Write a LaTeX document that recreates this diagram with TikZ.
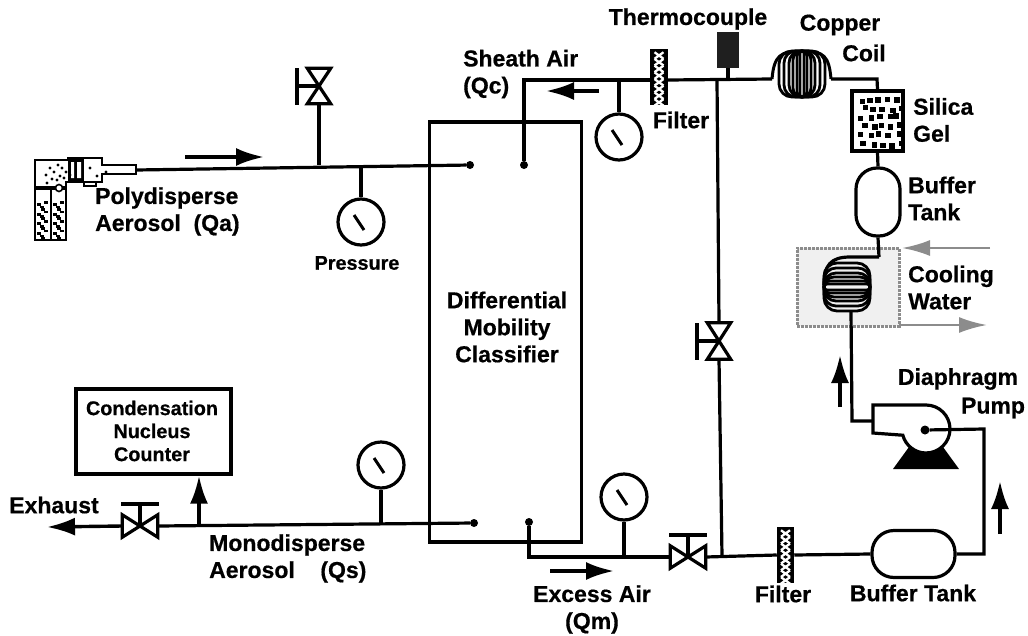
\documentclass[tikz,border=0pt]{standalone}
\usepackage{xcolor}
\usepackage{fontspec}
\setmainfont{Liberation Sans}[BoldFeatures={FakeBold=0.6}]
\usepackage{tikz}
\usetikzlibrary{arrows.meta}

\begin{document}
\begin{tikzpicture}[
x=1pt, y=-1pt,
% Style for the tubing and the flow arrows
pipe style/.style={line width=3.2pt, black},
flow style/.style={line width=3.4pt, -{Latex[length=28pt,width=18pt]}},
water style/.style={line width=2.6pt, black!45, -{Latex[length=28pt,width=16pt]}},
% Style for the drawn parts
gauge style/.style={circle, draw=black, line width=3.2pt, fill=white, minimum size=46pt, inner sep=0pt},
valve style/.style={draw=none, inner sep=0pt},
port style/.style={circle, fill=black, minimum size=8pt, inner sep=0pt},
filter style/.style={rectangle, draw=black, fill=black, line width=1.5pt, minimum width=16pt, minimum height=55pt, inner sep=0pt},
tank style/.style={rectangle, draw=black, line width=3.2pt, inner sep=0pt},
box style/.style={rectangle, draw=black, line width=3.2pt, inner sep=0pt},
% Style for the labels
label style/.style={font=\fontsize{23}{27}\selectfont\bfseries, inner sep=0pt, align=left},
small label/.style={font=\fontsize{19.8}{23}\selectfont\bfseries, inner sep=0pt, align=center}
]
\useasboundingbox (0,0) rectangle (1028,635);

% Cooling water bath goes underneath everything
\node[rectangle, draw=black!45, densely dotted, line width=3pt, fill=black!6, minimum width=102pt, minimum height=78pt, inner sep=0pt] (bath) at (848,287) {};
\coordinate (waterInEnd) at (990,248);
\coordinate (waterInTip) at (902,248);
\coordinate (waterOutStart) at (899,325);
\coordinate (waterOutTip) at (987,325);
\draw[water style] (waterInEnd) -- (waterInTip);
\draw[water style] (waterOutStart) -- (waterOutTip);

% Classifier column
\node[box style] (dmc) at (505.5,332) [minimum width=152pt, minimum height=420pt] {};
\node[label style, align=center] (dmcText) at (507,327) {Differential\\Mobility\\Classifier};

% Counter box
\node[box style, line width=3.4pt, minimum width=155pt, minimum height=85pt] (cnc) at (153.5,431.5) {};
\node[small label] (cncText) at (152,431) {Condensation\\Nucleus\\Counter};

% Gauges along the lines
\foreach \name/\pos in {gAerosol/{(361,222)}, gMono/{(381,465)}, gSheath/{(619,137)}, gExcess/{(624,497)}} {
\node[gauge style] (\name) at \pos {};
\draw[line width=3pt, shift={(\name.center)}] (-7,-7) -- (3,8);
}

% Valves, all with the same bow-tie
\node[valve style, minimum width=35pt, minimum height=22pt] (vExhaust) at (140,526) {};
\node[valve style, minimum width=35pt, minimum height=22pt] (vExcess) at (688,557) {};
\node[valve style, minimum width=23pt, minimum height=35pt] (vAerosol) at (319,86) {};
\node[valve style, minimum width=23pt, minimum height=36pt] (vBypass) at (719,341) {};
\foreach \v in {vExhaust,vExcess} {
\draw[pipe style, line join=miter] (\v.north west) -- (\v.south west) -- (\v.north east) -- (\v.south east) -- cycle;
\draw[pipe style] (\v.center) -- ++(0,-22) ++(-19,0) -- ++(38,0);
}
\foreach \v in {vAerosol,vBypass} {
\draw[pipe style, line join=miter] (\v.north west) -- (\v.north east) -- (\v.south west) -- (\v.south east) -- cycle;
\draw[pipe style] (\v.center) -- ++(-22,0) ++(0,-18) -- ++(0,37);
}

% Filters with their white crosses
\node[filter style] (fSheath) at (659,77) {};
\node[filter style] (fExit) at (785.5,555) {};
\foreach \f in {fSheath,fExit} {
\foreach \k in {0,...,7} {
\draw[white, line width=2.3pt, shift={(\f.north)}] (-4.5,{3.5+\k*6.7}) -- (4.5,{10+\k*6.7}) (-4.5,{10+\k*6.7}) -- (4.5,{3.5+\k*6.7});
}
}

% Thermocouple on its stem
\node[rectangle, fill=black!88, minimum width=22pt, minimum height=36pt, inner sep=0pt] (thermo) at (728,50) {};

% Silica gel drier, black grains scattered by random offsets
\node[box style, line width=3.4pt, minimum width=51pt, minimum height=60pt] (silica) at (877.5,121) {};
\pgfmathsetseed{11}
\foreach \r in {0,...,5} {
\foreach \c in {0,...,4} {
\pgfmathsetmacro{\gx}{857+\c*9+mod(\r,2)*3+rnd*4}
\pgfmathsetmacro{\gy}{95+\r*9+rnd*4}
\fill[black] (\gx,\gy) rectangle ++(5.4,5.4);
}
}

% Buffer tanks
\node[tank style, minimum width=44pt, minimum height=68pt, rounded corners=21pt] (tankUp) at (878,202) {};
\node[tank style, minimum width=83pt, minimum height=47pt, rounded corners=22pt] (tankLow) at (913.5,554) {};

% Copper coil, nested loops
\foreach \rx/\rc in {23/13,18/12,13/12,9/9,5/5,2/2} {
\draw[line width=2.8pt, rounded corners=\rc] (802-\rx,51) rectangle (802+\rx,97);
}
\coordinate (coilIn) at (772,79);
\coordinate (coilOut) at (831,79);
\draw[line width=3pt] (coilIn) .. controls (774,56) and (780,51) .. (802,51) .. controls (824,51) and (829,56) .. (coilOut);

% Cooling coil, nested loops
\foreach \ry/\rc in {24/13,19/12,14/12,10/10,6/6,3/3} {
\draw[line width=2.8pt, rounded corners=\rc] (824,287-\ry) rectangle (870,287+\ry);
}
\coordinate (coolIn) at (879,257);
\coordinate (coolOut) at (851,311);
\draw[pipe style] (coolIn) -- (850,257) .. controls (830,257) and (824,266) .. (824,285);

% Diaphragm pump
\fill[black] (893,469) -- (959,469) -- (943,447) -- (909,447) -- cycle;
\draw[pipe style, fill=white] (873,405) -- (926,405) arc[start angle=-90, end angle=165, radius=24] -- (873,433) -- cycle;
\node[port style, minimum size=9pt] (pumpHub) at (925,430) {};

% Atomizer
\draw[line width=2.6pt, fill=white] (35,160) -- (68,160) -- (68,158) -- (102,158) -- (102,165) -- (136,165) -- (136,174) -- (102,174) -- (102,182) -- (66,182) -- (66,240) -- (35,240) -- cycle;
\fill[black] (68,158) rectangle (84,181);
\fill[white] (71,162) rectangle (74,178) (77,162) rectangle (81,178);
\draw[line width=2.4pt] (51,188) -- (51,240);
\fill[black] (35,186) rectangle (66,190);
\draw[line width=1.6pt, fill=white] (59,188) circle (3.5);
\foreach \dotx/\doty in {46/175, 50/168, 54/172, 58/165, 62/168, 66/172, 60/176, 52/179, 57/180, 64/178, 90/168, 97/176, 106/172, 47/183, 70/175} {
\fill[black] (\dotx,\doty) circle (1.6);
}
\foreach \colx in {36,52} {
\foreach \k in {0,...,7} {
\fill[black] ({\colx+1+mod(\k,2)*4},{203+\k*4.8}) rectangle ++(4,3);
\fill[black] ({\colx+8-mod(\k,2)*4},{201+\k*4.8}) rectangle ++(3.5,2.5);
}
}
\draw[line width=1.5pt] (84,182) rectangle (96,186);

% Top line
\coordinate (jNozzle) at (136,170);
\node[port style] (portA) at (470,165) {};
\node[port style] (portC) at (524,165) {};
\draw[pipe style] (jNozzle) -- (portA);
\draw[pipe style] (vAerosol.south) -- (vAerosol.south |- portA);
\draw[pipe style] (gAerosol.north) -- (gAerosol.north |- portA);
\coordinate (jSheath) at (524,80);
\coordinate (jDrop) at (717,80);
\coordinate (jCorner) at (877,79);
\draw[pipe style] (portC) -- (jSheath) -- (fSheath.west |- jSheath);
\draw[pipe style] (gSheath.north) -- (gSheath.north |- jSheath);
\draw[pipe style] (fSheath.east |- jDrop) -- (coilIn);
\draw[pipe style] (thermo.south) -- (thermo.south |- jDrop);
\draw[pipe style] (coilOut) -- (jCorner) -- (silica.north);
\draw[pipe style] (silica.south) -- (tankUp.north);
\draw[pipe style] (tankUp.south) -- (coolIn);

% Bypass and pump loop
\coordinate (jBottom) at (722,556);
\coordinate (jPumpIn) at (852,421);
\coordinate (jPumpOut) at (984,429);
\coordinate (jTankOut) at (984,554);
\draw[pipe style] (jDrop) -- (vBypass.north);
\draw[pipe style] (vBypass.south) -- (jBottom);
\draw[pipe style] (coolOut) -- (jPumpIn) -- (873,421);
\draw[pipe style] (pumpHub) -- (jPumpOut) -- (jTankOut) -- (tankLow.east);
\draw[pipe style] (tankLow.west) -- (fExit.east);
\draw[pipe style] (fExit.west) -- (vExcess.east);

% Bottom lines
\node[port style] (portS) at (474,523) {};
\node[port style] (portM) at (529,522) {};
\coordinate (jExcess) at (529,557);
\coordinate (jCounter) at (199,524);
\coordinate (exhaustTip) at (47,527);
\draw[pipe style] (portM) -- (jExcess) -- (vExcess.west);
\draw[pipe style] (gExcess.south) -- (gExcess.south |- jExcess);
\draw[pipe style] (portS) -- (vExhaust.east);
\draw[pipe style] (gMono.south) -- (gMono.south |- portS);
\draw[flow style] (jCounter) -- (cnc.south -| jCounter);
\draw[flow style] (vExhaust.west) -- (exhaustTip);

% Loose flow arrows
\foreach \name/\sx/\sy/\ex/\ey in {arrA/185/157/264/157, arrB/599/91/546/91, arrC/550/571/614/571, arrD/840/407/840/355, arrE/1000/534/1000/481} {
\coordinate (\name s) at (\sx,\sy);
\coordinate (\name e) at (\ex,\ey);
\draw[flow style] (\name s) -- (\name e);
}

% Labels
\node[label style] (lblThermo) at (688,19) {Thermocouple};
\node[label style] (lblCopper) at (840,25) {Copper};
\node[label style] (lblCoil) at (864,53) {Coil};
\node[label style, anchor=west] (lblSilica) at (913,120) {Silica\\Gel};
\node[label style, anchor=west] (lblBuffer) at (908,198.5) {Buffer\\Tank};
\node[label style, anchor=west] (lblCooling) at (908,287.5) {Cooling\\Water};
\node[label style] (lblDiaphragm) at (958,379) {Diaphragm};
\node[label style] (lblPump) at (993,408) {Pump};
\node[label style] (lblTankLow) at (913,593) {Buffer Tank};
\node[label style] (lblFilterLow) at (783,594) {Filter};
\node[label style] (lblFilterUp) at (681,120) {Filter};
\node[label style, anchor=west] (lblSheath) at (463,74) {Sheath Air\\(Qc)};
\node[label style, anchor=west] (lblPoly) at (95,211.5) {Polydisperse\\Aerosol\ \ (Qa)};
\node[small label] (lblPressure) at (357,263) {Pressure};
\node[label style] (lblExhaust) at (54,505) {Exhaust};
\node[label style, anchor=west] (lblMono) at (209,558.5) {Monodisperse\\Aerosol\ \ \ \ (Qs)};
\node[label style, align=center] (lblExcess) at (592,609.5) {Excess Air\\(Qm)};

\end{tikzpicture}
\end{document}
